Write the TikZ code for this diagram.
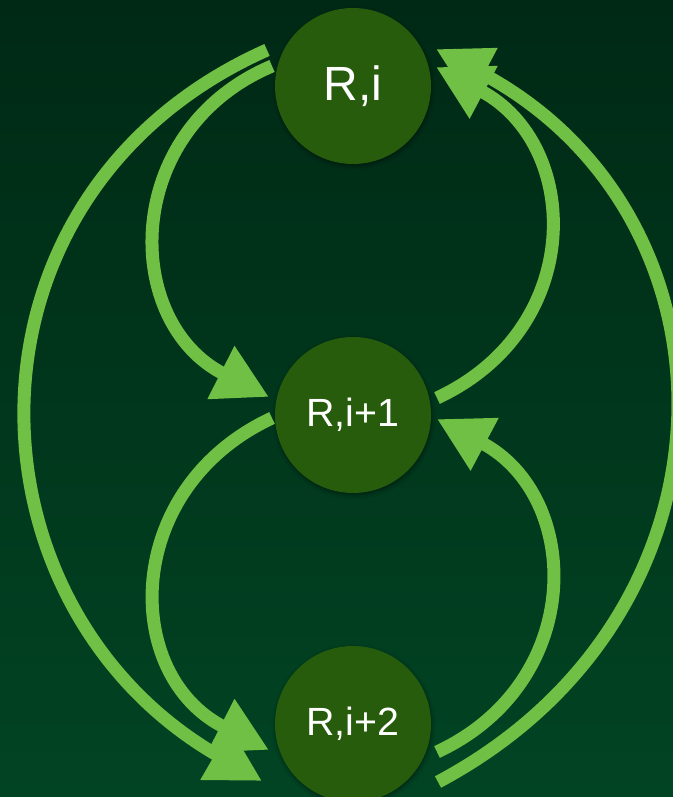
\documentclass[tikz,border=0pt]{standalone}
\usepackage{fontspec}
\setmainfont{Liberation Sans}
\usetikzlibrary{arrows.meta,shadows.blur}

\definecolor{hgoben}{RGB}{0,41,21}
\definecolor{hgunten}{RGB}{1,68,35}
\definecolor{kreisgruen}{RGB}{38,92,11}
\definecolor{pfeilgruen}{RGB}{111,192,68}

\tikzset{
    knoten/.style={circle, fill=kreisgruen, minimum size=117pt, inner sep=0pt, text=white,
        blur shadow={shadow xshift=0.6pt, shadow yshift=-1.5pt, shadow blur radius=3pt, shadow opacity=45}},
    pfeil/.style={draw=pfeilgruen, line width=9.75pt, -{Triangle[length=40.5pt,width=42pt]}}
}

\begin{document}
\begin{tikzpicture}[x=0.75pt,y=0.75pt]
        \useasboundingbox (0,0) rectangle (673,797);
        \clip (0,0) rectangle (673,797);
        \shade[top color=hgoben, bottom color=hgunten] (0,0) rectangle (673,797);

        \node[knoten, font=\fontsize{36pt}{42pt}\selectfont] (ri) at (353,711) {R,i};
        \node[knoten, font=\fontsize{29.5pt}{35pt}\selectfont] (rii) at (353,382) {R,i+1};
        \node[knoten, font=\fontsize{29.5pt}{35pt}\selectfont] (riii) at (353,73) {R,i+2};

        % linke Seite, nach unten
        \draw[pfeil] ([shift={(-81,20)}]ri.center) .. controls +(203:165) and +(153:165) .. ([shift={(-84,18)}]rii.center);
        \draw[pfeil] ([shift={(-86,36)}]ri.center) .. controls +(204:352) and +(150:352) .. ([shift={(-91,-57)}]riii.center);
        \draw[pfeil] ([shift={(-81,-3)}]rii.center) .. controls +(205:166) and +(153:166) .. ([shift={(-84,-26)}]riii.center);

        % rechte Seite, nach oben
        \draw[pfeil] ([shift={(84,17)}]rii.center) .. controls +(25:165) and +(-28:165) .. ([shift={(83,19)}]ri.center);
        \draw[pfeil] ([shift={(85,-58)}]riii.center) .. controls +(28:355) and +(-28:355) .. ([shift={(83,37)}]ri.center);
        \draw[pfeil] ([shift={(84,-28)}]riii.center) .. controls +(25:165) and +(-28:165) .. ([shift={(84,-4)}]rii.center);
    \end{tikzpicture}
\end{document}
